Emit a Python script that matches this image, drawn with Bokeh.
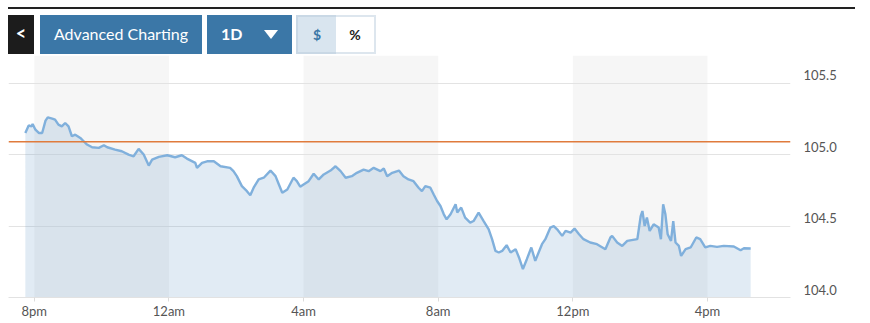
from bokeh.plotting import figure
from bokeh.models import (Range1d, LinearAxis, FixedTicker, Grid, Span, BoxAnnotation,
                          Div, ColumnDataSource, PrintfTickFormatter)
from bokeh.layouts import column
from bokeh.embed import file_html
from bokeh.resources import INLINE

# ---- data (minutes after 8pm, price) ----
minutes = [-16, -10, -5, -3, 2, 8, 14, 20, 24, 32, 37, 43, 49, 55, 61, 67, 73, 82, 88, 94, 103, 115, 124, 130,
           144, 156, 168, 177, 186, 195, 204, 210, 222, 237, 251, 263, 272, 287, 290, 299, 308, 320, 332, 349,
           355, 361, 370, 379, 385, 391, 400, 409, 421, 430, 436, 442, 451, 462, 468, 474, 480, 489, 498, 507,
           516, 528, 537, 546, 555, 566, 575, 587, 596, 605, 617, 623, 629, 638, 650, 658, 667, 676, 685, 691,
           697, 706, 712, 718, 724, 730, 735, 742, 751, 754, 761, 768, 777, 783, 792, 801, 810, 816, 822, 828,
           834, 842, 849, 858, 864, 871, 878, 886, 893, 899, 905, 911, 920, 926, 932, 941, 947, 956, 963, 971,
           979, 991, 1003, 1018, 1027, 1030, 1039, 1048, 1057, 1075, 1081, 1084, 1088, 1092, 1097, 1104, 1113,
           1117, 1121, 1125, 1129, 1135, 1139, 1143, 1149, 1153, 1161, 1170, 1180, 1187, 1196, 1205, 1217, 1229,
           1247, 1259, 1265, 1277]
price = [105.151, 105.204, 105.197, 105.214, 105.174, 105.151, 105.151, 105.237, 105.260, 105.251, 105.244,
         105.209, 105.197, 105.221, 105.197, 105.128, 105.139, 105.116, 105.093, 105.070, 105.051, 105.047,
         105.065, 105.051, 105.035, 105.023, 105.000, 104.988, 105.040, 105.000, 104.923, 104.965, 104.984,
         104.995, 104.981, 104.995, 104.972, 104.942, 104.907, 104.942, 104.953, 104.953, 104.918, 104.907,
         104.884, 104.849, 104.779, 104.744, 104.716, 104.768, 104.826, 104.838, 104.888, 104.849, 104.791,
         104.733, 104.756, 104.838, 104.814, 104.775, 104.791, 104.814, 104.866, 104.826, 104.861, 104.888,
         104.918, 104.884, 104.838, 104.849, 104.872, 104.895, 104.884, 104.907, 104.884, 104.902, 104.849,
         104.872, 104.888, 104.849, 104.826, 104.814, 104.768, 104.744, 104.779, 104.768, 104.721, 104.675,
         104.640, 104.582, 104.547, 104.582, 104.652, 104.594, 104.629, 104.559, 104.524, 104.535, 104.594,
         104.535, 104.477, 104.408, 104.326, 104.315, 104.326, 104.366, 104.315, 104.338, 104.280, 104.199,
         104.268, 104.350, 104.256, 104.315, 104.373, 104.408, 104.489, 104.500, 104.477, 104.431, 104.466,
         104.454, 104.482, 104.443, 104.408, 104.385, 104.373, 104.338, 104.420, 104.431, 104.385, 104.361,
         104.396, 104.408, 104.570, 104.605, 104.500, 104.559, 104.466, 104.512, 104.489, 104.408, 104.652,
         104.582, 104.443, 104.396, 104.535, 104.385, 104.361, 104.291, 104.338, 104.350, 104.420, 104.408,
         104.350, 104.361, 104.354, 104.361, 104.357, 104.331, 104.345, 104.343]
tick_minutes = [0, 240, 480, 720, 960, 1200]
tick_labels = ["8pm", "12am", "4am", "8am", "12pm", "4pm"]
price_ticks = [104.0, 104.5, 105.0, 105.5]
prev_close = 105.09

X_START, X_END = -46, 1348
Y_MIN, Y_MAX = 104.0, 105.693
FRAME_H = 243
LABEL_LIFT_PX = 8
off = LABEL_LIFT_PX * (Y_MAX - Y_MIN) / FRAME_H

FONT = "Lato"

# ---- toolbar (HTML) ----
btn = ("position:absolute;top:15px;height:39px;display:flex;align-items:center;"
       "justify-content:center;box-sizing:border-box;")
html = f'''<div style="position:relative;width:870px;height:55px;font-family:Lato,sans-serif;">
<div style="position:absolute;left:8px;top:7px;width:847px;height:2px;background:#222;"></div>
<div style="{btn}left:8px;width:26px;background:#1c1c1c;color:#fff;font-size:18px;font-weight:bold;padding-bottom:2px;">&lt;</div>
<div style="{btn}left:40px;width:162px;background:#3b77a7;color:#fff;font-size:16px;">Advanced Charting</div>
<div style="{btn}left:207px;width:85px;background:#3b77a7;color:#fff;font-size:16px;font-weight:bold;justify-content:flex-start;padding-left:14px;">1D<span style="display:inline-block;margin-left:22px;width:0;height:0;border-left:7px solid transparent;border-right:7px solid transparent;border-top:9px solid #fff;"></span></div>
<div style="{btn}left:296px;width:40px;background:#d9e5ef;border:2px solid #c9d8e5;border-right:none;color:#3b77a7;font-size:14px;font-weight:bold;">$</div>
<div style="{btn}left:336px;width:40px;background:#fff;border:2px solid #dde6ee;border-left:none;color:#222;font-size:14px;font-weight:bold;">%</div>
</div>'''
top = Div(text=html, width=870, height=55, margin=0)

# ---- chart ----
p = figure(width=870, height=266, x_range=Range1d(X_START, X_END), y_range=Range1d(Y_MIN, Y_MAX),
           output_backend="svg", toolbar_location=None, y_axis_location=None,
           min_border_left=8, min_border_right=80, min_border_top=0, min_border_bottom=23,
           outline_line_color=None, background_fill_color="white", border_fill_color="white",
           margin=0)
p.xgrid.visible = False
p.ygrid.visible = False

for i in range(0, len(tick_minutes) - 1, 2):
    p.add_layout(BoxAnnotation(left=tick_minutes[i], right=tick_minutes[i + 1],
                               fill_color="#f6f6f6", fill_alpha=1.0, line_color=None, level="image"))

p.add_layout(Grid(dimension=1, ticker=FixedTicker(ticks=price_ticks),
                  grid_line_color="#e3e3e3", grid_line_width=1))

src = ColumnDataSource(dict(t=minutes, v=price))
p.varea(x="t", y1=Y_MIN, y2="v", source=src, fill_color="#5b8fc0", fill_alpha=0.18)
p.line("t", "v", source=src, line_color="#80b0dc", line_width=2.4)

p.add_layout(Span(location=prev_close, dimension="width", line_color="#e07b3c", line_width=1.5))

xa = p.xaxis[0]
xa.ticker = FixedTicker(ticks=tick_minutes)
xa.major_label_overrides = {t: l for t, l in zip(tick_minutes, tick_labels)}
xa.minor_tick_line_color = None
xa.axis_line_color = "#e2e2e2"
xa.major_tick_line_color = "#dcdcdc"
xa.major_tick_out = 4
xa.major_tick_in = 0
xa.major_label_standoff = 1
xa.major_label_text_font = FONT
xa.major_label_text_font_size = "13px"
xa.major_label_text_color = "#555555"

p.extra_y_ranges = {"lbl": Range1d(Y_MIN - off, Y_MAX - off)}
ya = LinearAxis(y_range_name="lbl", ticker=FixedTicker(ticks=price_ticks),
                formatter=PrintfTickFormatter(format="%.1f"),
                axis_line_color=None, major_tick_line_color=None, minor_tick_line_color=None,
                major_tick_out=0, major_tick_in=0, major_label_standoff=13,
                major_label_text_font=FONT, major_label_text_font_size="13px",
                major_label_text_color="#555555")
p.add_layout(ya, "right")

bottom = Div(text='<div style="margin-left:8px;width:847px;border-top:1px solid #e4e4e4;height:0;"></div>',
             width=870, height=2, margin=0)

layout = column(top, p, bottom, spacing=0)
open("out.html", "w").write(file_html(layout, INLINE))
